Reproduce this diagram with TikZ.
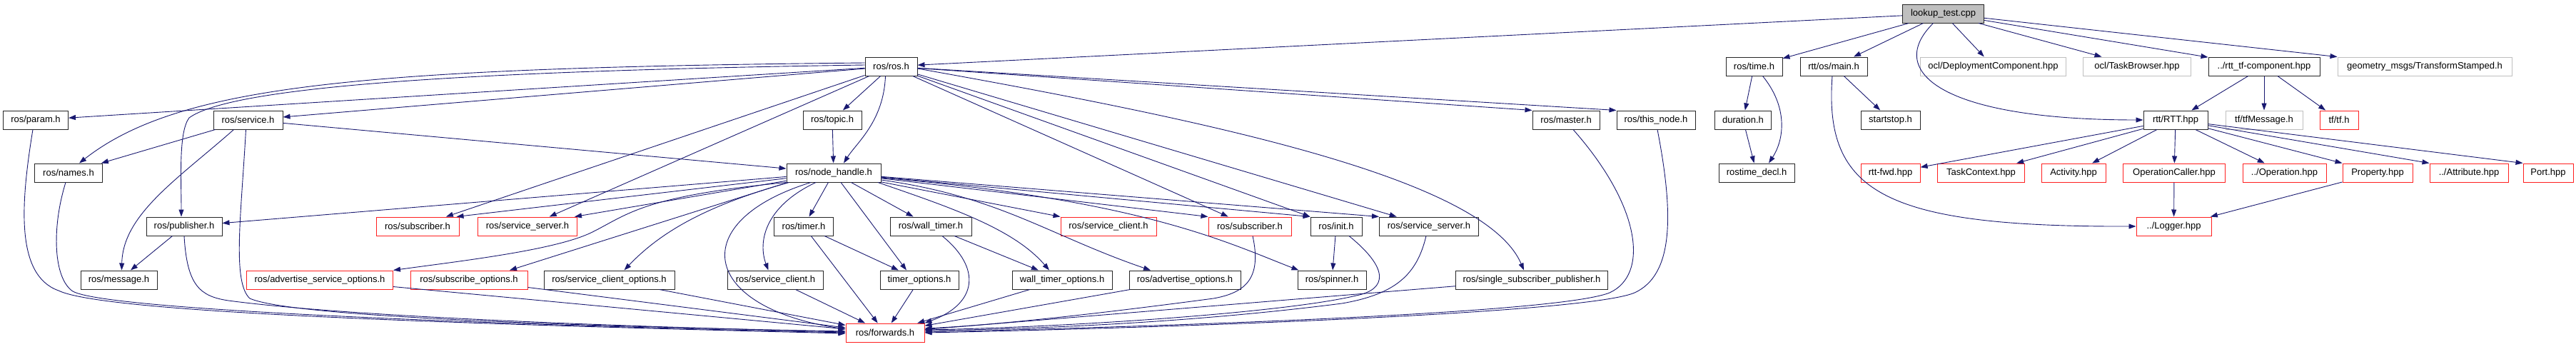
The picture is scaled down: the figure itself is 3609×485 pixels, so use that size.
\documentclass[tikz,border=0pt]{standalone}
\usepackage{fontspec}
\setmainfont{Liberation Sans}
\usetikzlibrary{arrows.meta,calc}
\definecolor{edgeblue}{HTML}{191970}
\definecolor{grayb}{HTML}{BFBFBF}
\definecolor{redb}{HTML}{FF2020}
\tikzset{
  box/.style={draw=black!85, line width=1pt, rectangle, minimum height=26pt, inner sep=0pt, fill=white, font=\fontsize{13}{15}\selectfont, text=black},
  redbox/.style={box, draw=redb},
  graybox/.style={box, draw=grayb},
  rootbox/.style={box, fill=grayb},
  e/.style={draw=edgeblue, line width=0.9pt, -{Triangle[length=10pt,width=7pt]}}
}
\begin{document}
\begin{tikzpicture}[x=1pt,y=-1pt]
\useasboundingbox (0,0) rectangle (3609,485);
% row 0
\node[rootbox, minimum width=114pt] (lookup) at (2722.5,19) {lookup\_test.cpp};
% row 1
\node[box, minimum width=73pt] (ros) at (1248.5,93) {ros/ros.h};
\node[box, minimum width=79pt] (time) at (2457.5,93) {ros/time.h};
\node[box, minimum width=94pt] (osmain) at (2569,93) {rtt/os/main.h};
\node[graybox, minimum width=204pt] (deploy) at (2792.5,93) {ocl/DeploymentComponent.hpp};
\node[graybox, minimum width=151pt] (tb) at (2994,93) {ocl/TaskBrowser.hpp};
\node[box, minimum width=156pt] (tfcomp) at (3172,93) {../rtt\_tf-component.hpp};
\node[graybox, minimum width=244pt] (geom) at (3397,93) {geometry\_msgs/TransformStamped.h};
% row 2
\node[box, minimum width=91pt] (param) at (50,168) {ros/param.h};
\node[box, minimum width=97pt] (service) at (347.5,168) {ros/service.h};
\node[box, minimum width=82pt] (topic) at (1166,168) {ros/topic.h};
\node[box, minimum width=94pt] (master) at (2194,168) {ros/master.h};
\node[box, minimum width=110pt] (thisnode) at (2320,168) {ros/this\_node.h};
\node[box, minimum width=79pt] (duration) at (2442,168) {duration.h};
\node[box, minimum width=83pt] (startstop) at (2648.5,168) {startstop.h};
\node[box, minimum width=90pt] (rtt) at (3048,168) {rtt/RTT.hpp};
\node[graybox, minimum width=108pt] (tfmsg) at (3172,168) {tf/tfMessage.h};
\node[redbox, minimum width=54pt] (tf) at (3277,168) {tf/tf.h};
% row 3
\node[box, minimum width=95pt] (names) at (96,242) {ros/names.h};
\node[box, minimum width=132pt] (nh) at (1168,242) {ros/node\_handle.h};
\node[box, minimum width=106pt] (rostimedecl) at (2461,242) {rostime\_decl.h};
\node[redbox, minimum width=83pt] (rttfwd) at (2648.5,242) {rtt-fwd.hpp};
\node[redbox, minimum width=122pt] (taskctx) at (2775.5,242) {TaskContext.hpp};
\node[redbox, minimum width=90pt] (activity) at (2905,242) {Activity.hpp};
\node[redbox, minimum width=143pt] (opcaller) at (3046,242) {OperationCaller.hpp};
\node[redbox, minimum width=117pt] (operation) at (3200.5,242) {../Operation.hpp};
\node[redbox, minimum width=98pt] (property) at (3331,242) {Property.hpp};
\node[redbox, minimum width=110pt] (attribute) at (3459,242) {../Attribute.hpp};
\node[redbox, minimum width=70pt] (port) at (3570,242) {Port.hpp};
% row 4
\node[box, minimum width=106pt] (publisher) at (258,317) {ros/publisher.h};
\node[redbox, minimum width=116pt] (sub1) at (585,317) {ros/subscriber.h};
\node[redbox, minimum width=139pt] (ss1) at (739,317) {ros/service\_server.h};
\node[box, minimum width=83pt] (timer) at (1126,317) {ros/timer.h};
\node[box, minimum width=114pt] (walltimer) at (1304,317) {ros/wall\_timer.h};
\node[redbox, minimum width=134pt] (sc1) at (1553,317) {ros/service\_client.h};
\node[redbox, minimum width=116pt] (sub2) at (1751,317) {ros/subscriber.h};
\node[box, minimum width=72pt] (init) at (1872,317) {ros/init.h};
\node[box, minimum width=139pt] (ss2) at (2002,317) {ros/service\_server.h};
\node[redbox, minimum width=105pt] (logger) at (3045.5,317) {../Logger.hpp};
% row 5
\node[box, minimum width=107pt] (message) at (166.5,392) {ros/message.h};
\node[redbox, minimum width=205pt] (aso) at (448,392) {ros/advertise\_service\_options.h};
\node[redbox, minimum width=164pt] (subopt) at (657,392) {ros/subscribe\_options.h};
\node[box, minimum width=183pt] (sco) at (853.5,392) {ros/service\_client\_options.h};
\node[box, minimum width=134pt] (sc2) at (1086.5,392) {ros/service\_client.h};
\node[box, minimum width=110pt] (timeropt) at (1288,392) {timer\_options.h};
\node[box, minimum width=140pt] (wto) at (1488,392) {wall\_timer\_options.h};
\node[box, minimum width=156pt] (advopt) at (1660,392) {ros/advertise\_options.h};
\node[box, minimum width=96pt] (spinner) at (1866,392) {ros/spinner.h};
\node[box, minimum width=213pt] (ssp) at (2146,392) {ros/single\_subscriber\_publisher.h};
% row 6
\node[redbox, minimum width=110pt] (fwd) at (1240,466) {ros/forwards.h};

% ---- edges: lookup_test.cpp
\draw[e] (lookup) -- (ros);
\draw[e] (lookup) -- (time);
\draw[e] (lookup) -- (osmain);
\draw[e] (lookup) -- (deploy);
\draw[e] (lookup) -- (tb);
\draw[e] (lookup) -- (tfcomp);
\draw[e] (lookup) -- (geom);
\draw[e] ([xshift=-14pt]lookup.south) .. controls (2640,100) and (2720,168) .. (rtt.west);
% ---- ros/ros.h
\draw[e] (ros) -- (param);
\draw[e] (ros) -- (service);
\draw[e] ([yshift=5pt]ros.west) .. controls (500,95) and (250,120) .. ([xshift=15pt]names.north);
\draw[e] ([yshift=2pt]ros.west) .. controls (600,100) and (320,125) .. (265,165) .. controls (250,185) and (254,250) .. ([xshift=-4pt]publisher.north);
\draw[e] (ros) -- (topic);
\draw[e] ([xshift=-8pt]ros.south) .. controls (1238,170) and (1200,200) .. ([xshift=14pt]nh.north);
\draw[e] (ros) -- (sub1);
\draw[e] (ros) -- (ss1);
\draw[e] (ros) -- (sub2);
\draw[e] (ros) -- (init.north west);
\draw[e] (ros) -- (ss2);
\draw[e] ([yshift=-3pt]ros.east) .. controls (1700,170) and (2080,250) .. ([xshift=-11pt]ssp.north);
\draw[e] (ros) -- (master.north west);
\draw[e] (ros) -- (thisnode.north west);
% ---- ros/service.h
\draw[e] (service) -- (nh);
\draw[e] (service) -- (names);
\draw[e] ([xshift=-20pt]service.south) .. controls (250,250) and (172,300) .. ([xshift=4pt]message.north);
\draw[e] ([xshift=-3pt]service.south) .. controls (338,300) and (325,395) .. (350,418) .. controls (400,440) and (700,455) .. ([yshift=2pt]fwd.west);
% ---- param, names, publisher, topic
\draw[e] ([xshift=-4pt]param.south) .. controls (30,280) and (20,385) .. (82,407) .. controls (150,440) and (700,455) .. ([yshift=-1pt]fwd.west);
\draw[e] ([xshift=-4pt]names.south) .. controls (72,320) and (75,390) .. (102,408) .. controls (150,435) and (700,455) .. (fwd.west);
\draw[e] (publisher) -- (message);
\draw[e] (publisher.south) .. controls (262,400) and (280,415) .. (320,421) .. controls (500,445) and (900,458) .. ([yshift=1pt]fwd.west);
\draw[e] (topic) -- (nh);
% ---- ros/node_handle.h
\draw[e] (nh) -- (publisher);
\draw[e] (nh) -- ([xshift=-4pt]sub1.north east);
\draw[e] (nh) -- ([xshift=-4pt]ss1.north east);
\draw[e] (nh.south west) .. controls (900,275) and (880,300) .. (830,325) .. controls (780,350) and (650,365) .. (aso.north east);
\draw[e] ([xshift=2pt]nh.south west) -- ([xshift=57pt]subopt.north);
\draw[e] ([xshift=4pt]nh.south west) .. controls (1000,285) and (930,320) .. ([xshift=21pt]sco.north);
\draw[e] ([xshift=-32pt]nh.south) .. controls (960,310) and (980,430) .. ([yshift=5pt]fwd.west);
\draw[e] ([xshift=-25pt]nh.south) .. controls (1070,290) and (1062,340) .. ([xshift=-10pt]sc2.north);
\draw[e] (nh) -- (timer);
\draw[e] (nh) -- ([xshift=-18pt]timeropt.north);
\draw[e] (nh) -- (walltimer);
\draw[e] ([xshift=62pt]nh.south) .. controls (1330,290) and (1420,320) .. ([xshift=-18pt]wto.north);
\draw[e] (nh) -- (sc1.north west);
\draw[e] ([yshift=-10pt]nh.east) .. controls (1400,275) and (1470,330) .. ([xshift=-48pt]advopt.north);
\draw[e] (nh) -- (sub2.north west);
\draw[e] ([yshift=-7pt]nh.east) .. controls (1600,280) and (1720,340) .. ([xshift=2pt]spinner.north west);
\draw[e] (nh) -- (init.north west);
\draw[e] (nh) -- (ss2.north west);
% ---- into ros/forwards.h and others
\draw[e] ([xshift=4pt]sub2.south) .. controls (1768,390) and (1745,410) .. (1700,418) .. controls (1550,438) and (1400,455) .. ([yshift=6pt]fwd.east);
\draw[e] (timer) -- (timeropt);
\draw[e] (timer) -- (fwd);
\draw[e] (walltimer) -- (wto);
\draw[e] ([xshift=16pt]walltimer.south) .. controls (1375,375) and (1370,425) .. (fwd.north east);
\draw[e] (timeropt) -- (fwd);
\draw[e] (wto) -- (fwd);
\draw[e] (advopt) -- (fwd);
\draw[e] (sc2) -- (fwd);
\draw[e] (sco) -- (fwd);
\draw[e] (subopt) -- (fwd);
\draw[e] (aso) -- (fwd);
\draw[e] (init) -- (spinner);
\draw[e] ([xshift=18pt]init.south) .. controls (1945,375) and (1945,405) .. (1900,414) .. controls (1800,438) and (1500,458) .. ([yshift=4pt]fwd.east);
\draw[e] ([xshift=-4pt]ss2.south) .. controls (1985,385) and (1955,412) .. (1880,425) .. controls (1700,448) and (1500,460) .. ([yshift=3pt]fwd.east);
\draw[e] (ssp) -- (fwd);
\draw[e] ([xshift=10pt]master.south) .. controls (2300,290) and (2310,385) .. (2255,410) .. controls (2180,440) and (1600,458) .. ([yshift=1pt]fwd.east);
\draw[e] ([xshift=2pt]thisnode.south) .. controls (2345,300) and (2345,385) .. (2290,410) .. controls (2220,440) and (1600,460) .. (fwd.east);
% ---- right part
\draw[e] (time) -- (duration);
\draw[e] ([xshift=12pt]time.south) .. controls (2505,150) and (2500,195) .. ([xshift=17pt]rostimedecl.north);
\draw[e] (duration) -- (rostimedecl);
\draw[e] (osmain) -- (startstop);
\draw[e] ([xshift=-2pt]osmain.south) .. controls (2555,270) and (2640,318) .. (logger.west);
\draw[e] (tfcomp) -- (rtt);
\draw[e] (tfcomp) -- (tfmsg);
\draw[e] (tfcomp) -- (tf);
\draw[e] (rtt) -- (rttfwd);
\draw[e] (rtt) -- (taskctx);
\draw[e] (rtt) -- (activity);
\draw[e] (rtt) -- (opcaller);
\draw[e] (rtt) -- (operation);
\draw[e] (rtt) -- (property.north west);
\draw[e] (rtt) -- (attribute.north west);
\draw[e] (rtt) -- (port.north west);
\draw[e] (opcaller) -- (logger);
\draw[e] (property) -- (logger);
\end{tikzpicture}
\end{document}
